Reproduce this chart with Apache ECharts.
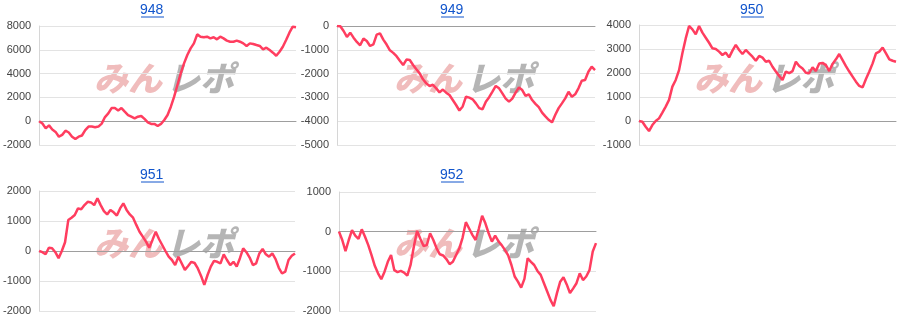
<!DOCTYPE html>
<html><head><meta charset="utf-8">
<script src="https://cdn.jsdelivr.net/npm/echarts@6/dist/echarts.min.js"></script>
<style>html,body{margin:0;padding:0;background:#fff}#c{width:900px;height:332px}</style>
</head><body><div id="c"></div>
<script>
const titles = ['948', '949', '950', '951', '952'];

const d948 = [0,-200,-600,-350,-700,-900,-1300,-1150,-800,-950,-1300,-1500,-1300,-1200,-750,-450,-450,-500,-450,-200,350,650,1100,1100,900,1100,800,520,380,240,380,440,190,-100,-230,-230,-400,-230,100,520,1220,2060,3040,4020,4860,5560,6120,6540,7300,7100,7050,7100,6960,7050,6880,7100,6960,6770,6680,6680,6770,6680,6540,6320,6540,6490,6400,6320,6040,6180,5980,5760,5500,5840,6260,6820,7440,7940,7890];

const d949 = [0,-10,-210,-460,-280,-490,-670,-810,-530,-630,-840,-770,-360,-310,-570,-780,-1020,-1130,-1270,-1460,-1640,-1410,-1430,-1640,-1820,-1990,-2240,-2410,-2520,-2470,-2620,-2790,-2670,-2800,-2900,-3110,-3320,-3550,-3380,-2970,-3010,-3080,-3250,-3450,-3500,-3180,-2990,-2760,-2520,-2620,-2830,-3050,-3180,-3050,-2800,-2580,-2690,-2940,-2870,-3110,-3270,-3410,-3640,-3800,-3940,-4050,-3730,-3450,-3250,-3040,-2760,-2970,-2870,-2620,-2300,-2270,-1920,-1710,-1850];

const d950 = [0,-30,-240,-420,-170,0,110,350,600,880,1430,1710,2120,2820,3440,3960,3820,3610,3960,3680,3470,3260,3030,3000,2890,2750,2850,2650,2930,3170,2960,2790,2960,2820,2680,2510,2710,2640,2470,2510,2260,2060,1880,1710,2060,1990,2080,2470,2290,2190,2010,1990,2240,2080,2400,2420,2330,2080,2380,2570,2790,2540,2290,2060,1850,1640,1460,1400,1750,2060,2400,2820,2890,3060,2820,2570,2510,2470];

const d951 = [0,-40,-110,110,90,-40,-240,0,290,1030,1110,1200,1420,1390,1530,1640,1620,1530,1760,1530,1330,1220,1370,1290,1180,1420,1590,1370,1220,1110,870,640,480,310,110,370,640,400,200,0,-190,-300,-470,-190,-410,-630,-500,-360,-400,-580,-830,-1130,-800,-520,-330,-360,-410,-110,-300,-470,-360,-520,-240,90,-40,-220,-470,-410,-80,70,-110,-190,-80,-270,-560,-750,-690,-300,-160,-80];

const d952 = [0,-210,-490,-210,40,-100,-180,60,-130,-340,-590,-860,-1050,-1200,-1010,-760,-590,-970,-1020,-990,-1030,-1110,-840,-380,20,-180,-360,-340,-40,-210,-420,-570,-600,-690,-820,-760,-590,-420,-150,240,80,-80,-210,80,400,210,-40,-250,-100,-240,-340,-460,-600,-840,-1130,-1260,-1410,-1190,-670,-760,-840,-990,-1090,-1300,-1510,-1720,-1880,-1550,-1260,-1150,-1330,-1550,-1430,-1300,-1050,-1220,-1130,-970,-500,-290];

const seriesData = [d948, d949, d950, d951, d952];
const yMin = [-2000, -5000, -1000, -2000, -2000];
const yMax = [8000, 0, 4000, 2000, 1000];
const yStep = [2000, 1000, 1000, 1000, 1000];

// layout (pixels)
const boxes = [
  {x: 0,   y: 0,   l: 39,  t: 26,  w: 257, h: 119},
  {x: 300, y: 0,   l: 337, t: 26,  w: 258, h: 119},
  {x: 600, y: 0,   l: 639, t: 25,  w: 257, h: 120},
  {x: 0,   y: 165, l: 37,  t: 191, w: 258, h: 120},
  {x: 300, y: 165, l: 339, t: 192, w: 257, h: 119}
];

const chart = echarts.init(document.getElementById('c'), null, {renderer: 'canvas'});
const grid = [], xAxis = [], yAxis = [], series = [], graphic = [];
const font = 'Arial, "Liberation Sans", sans-serif';

boxes.forEach((b, i) => {
  grid.push({left: b.l, top: b.t, width: b.w, height: b.h, containLabel: false});
  xAxis.push({
    type: 'category', gridIndex: i, boundaryGap: false,
    data: seriesData[i].map((_, k) => k),
    axisLabel: {show: false}, axisTick: {show: false},
    axisLine: {show: true, onZero: true, lineStyle: {color: '#9e9e9e', width: 1}},
    splitLine: {show: false}
  });
  yAxis.push({
    type: 'value', gridIndex: i, min: yMin[i], max: yMax[i], interval: yStep[i],
    axisLine: {show: true, lineStyle: {color: '#d6d6d6'}},
    axisTick: {show: false},
    axisLabel: {color: '#444', fontSize: 11, fontFamily: font, margin: 8,
      formatter: v => String(v)},
    splitLine: {lineStyle: {color: '#e3e3e3', width: 1}}
  });
  series.push({
    type: 'line', xAxisIndex: i, yAxisIndex: i, data: seriesData[i],
    showSymbol: false, symbol: 'none', smooth: false,
    lineStyle: {color: '#ff3d5f', width: 2.5}, z: 5, animation: false
  });
  const cx = b.x + 152;
  graphic.push({
    type: 'text', left: cx - 12, top: b.y + 3, z: 10,
    style: {text: titles[i], fill: '#1155cc', font: '14px ' + font}
  });
  graphic.push({
    type: 'line', z: 10,
    shape: {x1: cx - 11, y1: b.y + 17, x2: cx + 12, y2: b.y + 17},
    style: {stroke: '#1155cc', lineWidth: 1}
  });
  // watermark
  const wx = b.x + 94, wy = b.y + 61;
  graphic.push({
    type: 'text', left: wx, top: wy, z: 0, silent: true,
    style: {text: 'みん', fill: 'rgba(215,80,80,0.38)', font: 'italic 900 34px "Noto Sans CJK JP"'}
  });
  graphic.push({
    type: 'text', left: wx + 72, top: wy, z: 0, silent: true,
    style: {text: 'レポ', fill: 'rgba(120,120,120,0.55)', font: 'italic 900 34px "Noto Sans CJK JP"'}
  });
});

chart.setOption({
  animation: false,
  backgroundColor: '#fff',
  grid, xAxis, yAxis, series, graphic
});
</script>
</body></html>
